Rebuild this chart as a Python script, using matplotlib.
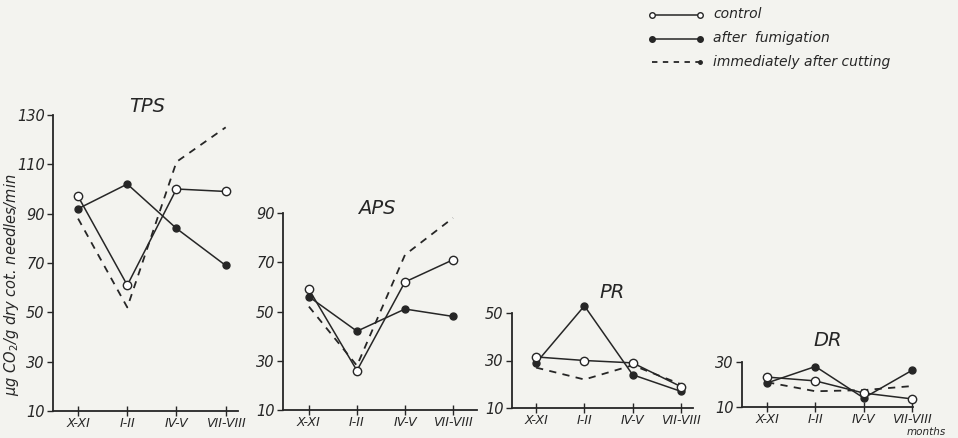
import numpy as np
import matplotlib.pyplot as plt
from matplotlib.lines import Line2D

periods = ['X-XI', 'I-II', 'IV-V', 'VII-VIII']

# TPS
tps_control = [97, 61, 100, 99]
tps_fumig = [92, 102, 84, 69]
tps_cut = [88, 52, 111, 125]
# APS
aps_control = [59, 26, 62, 71]
aps_fumig = [56, 42, 51, 48]
aps_cut = [52, 28, 73, 88]
# PR
pr_control = [31.5, 30, 29, 19]
pr_fumig = [29, 53, 24, 17]
pr_cut = [27, 22, 28, 20]
# DR
dr_control = [23.3, 21.6, 16.2, 13.6]
dr_fumig = [20.7, 28, 14, 26.3]
dr_cut = [21, 17, 17.5, 19.3]

panels = [
    ('TPS', tps_control, tps_fumig, tps_cut, [10, 30, 50, 70, 90, 110, 130]),
    ('APS', aps_control, aps_fumig, aps_cut, [10, 30, 50, 70, 90]),
    ('PR', pr_control, pr_fumig, pr_cut, [10, 30, 50]),
    ('DR', dr_control, dr_fumig, dr_cut, [10, 30]),
]

# axes boxes in pixels: left, right, y of bottom, y of top, xlim
boxes = [
    (53, 238, 411, 115, (-0.51, 3.25)),
    (283, 477, 410, 213, (-0.54, 3.5)),
    (512, 693, 408, 313, (-0.5, 3.25)),
    (742, 913, 407, 362, (-0.52, 3.02)),
]
title_px = [(147, 107), (377, 208), (612, 293), (828, 340)]

W, H = 958, 438
bg = '#f3f3ef'
ink = '#262626'

fig = plt.figure(figsize=(W / 100, H / 100), dpi=100, facecolor=bg)
plt.rcParams['font.family'] = ['DejaVu Sans']

x = np.arange(len(periods))
for (name, ctl, fum, cut, yt), (l, r, yb, ytop, xl), (tx, ty) in zip(panels, boxes, title_px):
    ax = fig.add_axes([l / W, 1 - yb / H, (r - l) / W, (yb - ytop) / H])
    ax.set_facecolor('none')
    ax.plot(x, cut, color=ink, lw=1.3, ls=(0, (4, 3.5)), clip_on=False)
    ax.plot(x, fum, color=ink, lw=1.1, marker='o', ms=5, mfc=ink, mec=ink, clip_on=False)
    ax.plot(x, ctl, color=ink, lw=1.1, marker='o', ms=6, mfc='white', mec=ink, mew=1,
            clip_on=False)
    ax.set_xlim(*xl)
    ax.set_ylim(yt[0], yt[-1])
    ax.set_yticks(yt)
    ax.set_yticklabels([str(v) for v in yt], fontsize=10.5, style='italic', color=ink)
    ax.set_xticks(x)
    ax.set_xticklabels(periods, fontsize=9, style='italic', color=ink)
    ax.tick_params(axis='y', direction='out', length=4, width=1, pad=2, colors=ink)
    ax.tick_params(axis='x', direction='inout', length=7, width=1, pad=1, colors=ink)
    for s in ['top', 'right']:
        ax.spines[s].set_visible(False)
    for s in ['left', 'bottom']:
        ax.spines[s].set_linewidth(1.3)
        ax.spines[s].set_color(ink)
    fig.text(tx / W, 1 - ty / H, name, fontsize=14, style='italic', color=ink,
             ha='center', va='center')

fig.text(12 / W, 1 - 285 / H, r'$\mu$g CO$_2$/g dry cot. needles/min', rotation=90,
         fontsize=10.5, style='italic', color=ink, ha='center', va='center')
fig.text(926 / W, 1 - 432 / H, 'months', fontsize=7.5, style='italic', color=ink,
         ha='center', va='center')

# legend
lg = fig.add_axes([0, 0, 1, 1])
lg.set_xlim(0, W)
lg.set_ylim(H, 0)
lg.axis('off')
lg.add_line(Line2D([652, 700], [15, 15], color=ink, lw=1.1, marker='o', ms=4,
                   mfc='white', mec=ink))
lg.add_line(Line2D([652, 700], [39, 39], color=ink, lw=1.1, marker='o', ms=4,
                   mfc=ink, mec=ink))
lg.add_line(Line2D([652, 700], [62, 62], color=ink, lw=1.3, ls=(0, (3, 3))))
lg.plot([700], [62], 'o', ms=2.5, color=ink)
leg_txt = ['control', 'after  fumigation', 'immediately after cutting']
for yy, t in zip([14, 38, 62], leg_txt):
    lg.text(713, yy, t, fontsize=10, style='italic', color=ink, va='center', ha='left')

fig.savefig('out.png', dpi=100, facecolor=bg)
